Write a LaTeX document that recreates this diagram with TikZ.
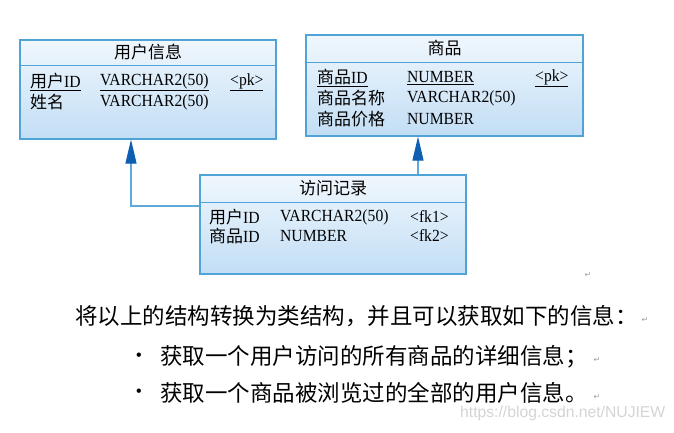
\documentclass[tikz,border=0pt]{standalone}
\usepackage{fontspec}
\setmainfont[FakeStretch=0.92]{Liberation Serif}
\newfontfamily\cjk{Noto Sans CJK SC}
\newfontfamily\symfont{DejaVu Sans}
\newfontfamily\wmfont{Liberation Sans}
\usetikzlibrary{positioning, arrows.meta}

\definecolor{tableborder}{HTML}{4FA3D6}
\definecolor{tabletop}{HTML}{F0F7FD}
\definecolor{tablebottom}{HTML}{C2DEF5}
\definecolor{linkblue}{HTML}{5EA9DC}
\definecolor{tipblue}{HTML}{0E5EB2}
\definecolor{markgray}{HTML}{A0A0A0}
\definecolor{wmgray}{HTML}{D4D4D4}

\newcommand{\zh}[1]{{\cjk\fontsize{17}{20}\selectfont #1}}

\tikzset{
  tablebox/.style={draw=tableborder, line width=1.2pt, rectangle, top color=tabletop, bottom color=tablebottom, inner sep=0pt},
  tablehead/.style={inner sep=0pt, font=\cjk\fontsize{17}{20}\selectfont},
  tablerow/.style={anchor=west, inner sep=0pt, font=\fontsize{17}{20}\selectfont},
  reflink/.style={draw=linkblue, line width=1.2pt, -{Triangle[length=24pt, width=11pt, color=tipblue]}},
  notetext/.style={anchor=west, inner sep=0pt, font=\cjk\fontsize{22.5}{26}\selectfont},
  notedot/.style={inner sep=0pt, font=\wmfont\fontsize{16}{18}\selectfont},
  parmark/.style={inner sep=0pt, text=markgray, font=\symfont\fontsize{8}{8}\selectfont}
}

\begin{document}
\begin{tikzpicture}[x=1pt, y=-1pt]
\useasboundingbox (0,0) rectangle (674,433);

% tables
\node[tablebox, minimum width=256pt, minimum height=99pt] (user) at (148,89.5) {};
\node[tablebox, minimum width=277pt, minimum height=101pt] (goods) at (444.5,85.5) {};
\node[tablebox, minimum width=266pt, minimum height=99pt] (visit) at (333,224.5) {};

\draw[tableborder, line width=1.2pt] ([yshift=-26pt]user.north west) -- ([yshift=-26pt]user.north east);
\draw[tableborder, line width=1.2pt] ([yshift=-28pt]goods.north west) -- ([yshift=-28pt]goods.north east);
\draw[tableborder, line width=1.2pt] ([yshift=-28pt]visit.north west) -- ([yshift=-28pt]visit.north east);

\node[tablehead] (userhead) at ([yshift=-13pt]user.north) {用户信息};
\node[tablehead] (goodshead) at ([yshift=-14pt]goods.north) {商品};
\node[tablehead] (visithead) at ([yshift=-14pt]visit.north) {访问记录};

% user columns
\node[tablerow] (userid) at (30,82) {\underline{\zh{用户}ID}};
\node[tablerow] (useridtype) at (100,82) {\underline{VARCHAR2(50)}};
\node[tablerow] (useridkey) at (230,82) {\underline{<pk>}};
\node[tablerow] (username) at (30,102) {\zh{姓名}};
\node[tablerow] (usernametype) at (100,102) {VARCHAR2(50)};

% goods columns
\node[tablerow] (goodsid) at (317,78) {\underline{\zh{商品}ID}};
\node[tablerow] (goodsidtype) at (407,78) {\underline{NUMBER}};
\node[tablerow] (goodsidkey) at (535,78) {\underline{<pk>}};
\node[tablerow] (goodsname) at (317,98) {\zh{商品名称}};
\node[tablerow] (goodsnametype) at (407,98) {VARCHAR2(50)};
\node[tablerow] (goodsprice) at (317,119) {\zh{商品价格}};
\node[tablerow] (goodspricetype) at (407,119) {NUMBER};

% visit columns
\node[tablerow] (visituser) at (209,217) {\zh{用户}ID};
\node[tablerow] (visitusertype) at (280,217) {VARCHAR2(50)};
\node[tablerow] (visituserkey) at (410,217) {<fk1>};
\node[tablerow] (visitgoods) at (209,236) {\zh{商品}ID};
\node[tablerow] (visitgoodstype) at (280,236) {NUMBER};
\node[tablerow] (visitgoodskey) at (410,236) {<fk2>};

% references
\draw[reflink] ([yshift=18.5pt]visit.west) -| ([xshift=-17pt]user.south);
\draw[reflink] ([xshift=85pt]visit.north) -- ([xshift=85pt]visit.north |- goods.south);

\node[parmark] (mark0) at (588,275) {↵};

% text below
\node[notetext] (intro) at (75,316) {将以上的结构转换为类结构，并且可以获取如下的信息：};
\node[parmark] (mark1) at (645,320) {↵};
\node[notedot] (dot1) at (139,357) {•};
\node[notetext] (item1) at (160,357) {获取一个用户访问的所有商品的详细信息；};
\node[parmark] (mark2) at (597,360) {↵};
\node[notedot] (dot2) at (139,393) {•};
\node[notetext] (item2) at (160,393) {获取一个商品被浏览过的全部的用户信息。};
\node[parmark] (mark3) at (597,397) {↵};

\node[anchor=west, inner sep=0pt, text=wmgray, font=\wmfont\fontsize{15.7}{18}\selectfont] (watermark) at (460,413) {https://blog.csdn.net/NUJIEW};
\end{tikzpicture}
\end{document}
